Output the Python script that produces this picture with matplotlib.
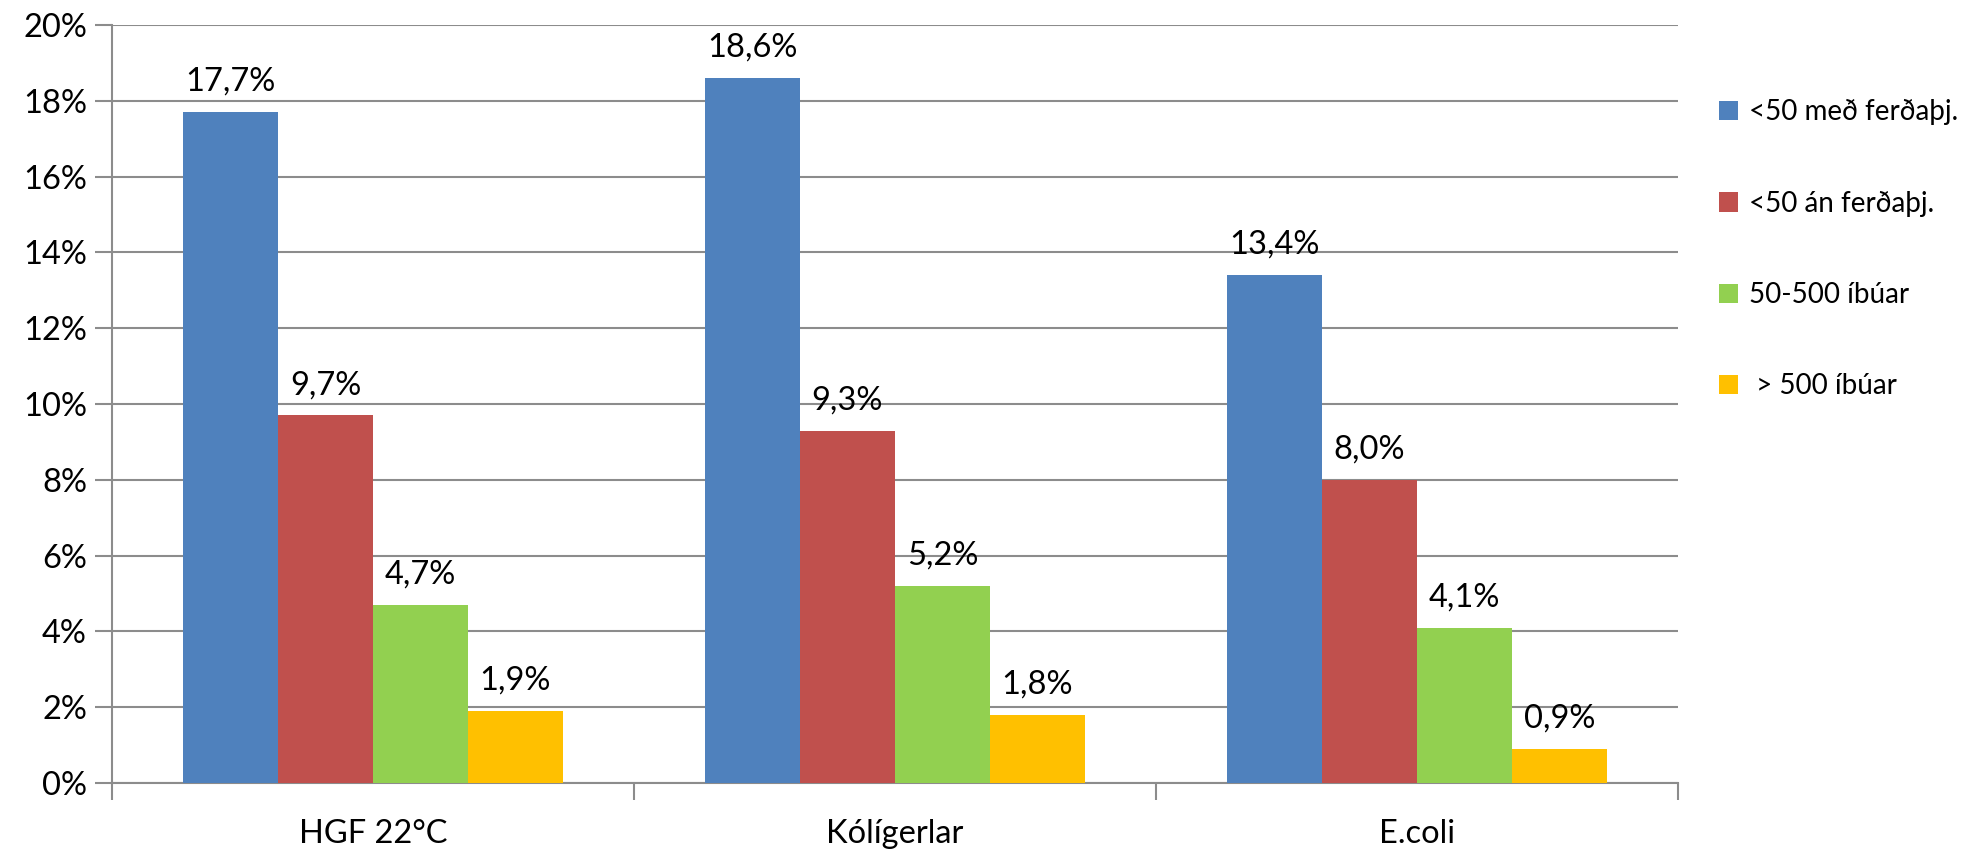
import numpy as np
import matplotlib.pyplot as plt

plt.rcParams["font.family"] = ["Lato", "DejaVu Sans"]

categories = ["HGF 22°C", "Kólígerlar", "E.coli"]
series_names = ["<50 með ferðaþj.", "<50 án ferðaþj.", "50-500 íbúar", " > 500 íbúar"]
values = [
    [17.7, 18.6, 13.4],
    [9.7, 9.3, 8.0],
    [4.7, 5.2, 4.1],
    [1.9, 1.8, 0.9],
]
colors = ["#4F81BD", "#C0504D", "#92D050", "#FFC000"]

fig = plt.figure(figsize=(19.74, 8.49), dpi=100)
ax = fig.add_axes([0.0567, 0.0777, 0.7933, 0.8929])

x = np.arange(len(categories))
w = 0.182
for i, (name, vals, c) in enumerate(zip(series_names, values, colors)):
    pos = x + (i - 1.5) * w
    ax.bar(pos, vals, width=w, color=c, label=name, zorder=3)
    for p, v in zip(pos, vals):
        ax.text(p, v + 0.4, f"{v:.1f}%".replace(".", ","), ha="center", va="bottom",
                fontsize=23.5)

ax.set_xlim(-0.5, 2.5)
ax.set_ylim(0, 20)
ax.set_yticks(np.arange(0, 21, 2))
ax.set_yticklabels([f"{t}%" for t in range(0, 21, 2)], fontsize=23.5)
ax.yaxis.grid(True, color="#8C8C8C", linewidth=1.5, zorder=0)
ax.set_xticks(x)
ax.set_xticklabels(categories, fontsize=23.5)
ax.set_xticks([-0.5, 0.5, 1.5, 2.5], minor=True)
ax.tick_params(axis="x", which="major", length=0, pad=26)
ax.tick_params(axis="x", which="minor", length=12, width=1.5, color="#8C8C8C")
ax.tick_params(axis="y", length=12, width=1.5, color="#8C8C8C", pad=6)

for s in ["top", "right"]:
    ax.spines[s].set_visible(False)
for s in ["left", "bottom"]:
    ax.spines[s].set_color("#8C8C8C")
    ax.spines[s].set_linewidth(1.5)

ax.legend(loc="upper left", bbox_to_anchor=(1.01, 0.935), frameon=False, fontsize=20,
          handlelength=0.7, handleheight=0.7, handletextpad=0.4, labelspacing=2.35)

fig.savefig("out.png", dpi=100)
